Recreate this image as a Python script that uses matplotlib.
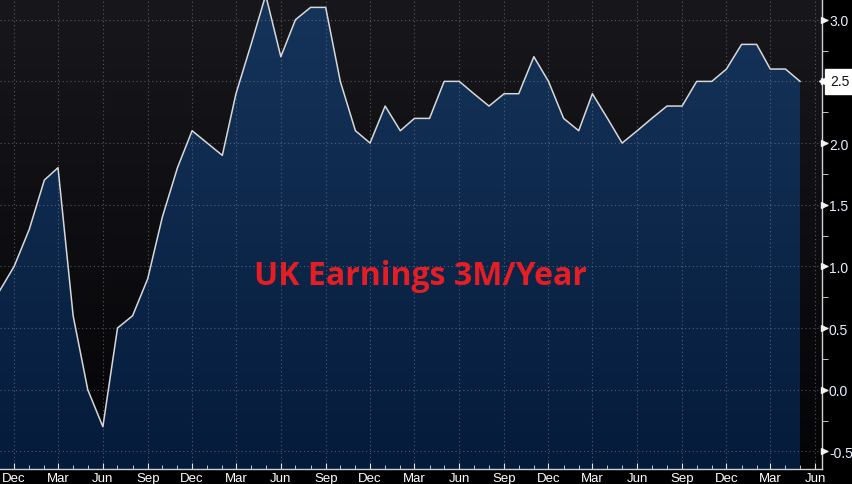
import numpy as np
import pandas as pd
import matplotlib
matplotlib.use("Agg")
import matplotlib.pyplot as plt
import matplotlib.dates as mdates
from matplotlib.transforms import blended_transform_factory

# UK average earnings, 3M/YoY (%), monthly Nov 2013 - May 2018
values = [0.8,
          1.0, 1.3, 1.7, 1.8, 0.6, 0.0, -0.3, 0.5, 0.6, 0.9, 1.4, 1.8,
          2.1, 2.0, 1.9, 2.4, 2.8, 3.2, 2.7, 3.0, 3.1, 3.1, 2.5, 2.1,
          2.0, 2.3, 2.1, 2.2, 2.2, 2.5, 2.5, 2.4, 2.3, 2.4, 2.4, 2.7,
          2.5, 2.2, 2.1, 2.4, 2.2, 2.0, 2.1, 2.2, 2.3, 2.3, 2.5, 2.5,
          2.6, 2.8, 2.8, 2.6, 2.6, 2.5]
dates = pd.date_range('2013-11-01', periods=len(values), freq='MS')
yticks = [-0.5, 0.0, 0.5, 1.0, 1.5, 2.0, 2.5, 3.0]
title = "UK Earnings 3M/Year"

fig = plt.figure(figsize=(8.52, 4.85), dpi=100, facecolor='black')
ax = fig.add_axes([0, 15 / 485, 822 / 852, 470 / 485])

x0, x1 = pd.Timestamp('2013-11-02'), pd.Timestamp('2018-06-15')
y0, y1 = -0.643, 3.168
ax.set_xlim(x0, x1)
ax.set_ylim(y0, y1)

# background gradient of the plot area
bg = np.linspace(0, 1, 256).reshape(-1, 1)
bg_cmap = matplotlib.colors.LinearSegmentedColormap.from_list('bg', ['#18181c', '#040407'])
ax.imshow(bg, cmap=bg_cmap, extent=[0, 1, 0, 1], transform=ax.transAxes,
          aspect='auto', zorder=0)

# area fill with vertical gradient, clipped to the series polygon
poly = ax.fill_between(dates, values, y0, color='none', zorder=0.4)
fill_cmap = matplotlib.colors.LinearSegmentedColormap.from_list('fill', ['#15345a', '#051b3b'])
im = ax.imshow(bg, cmap=fill_cmap, extent=[0, 1, 0, 1], transform=ax.transAxes,
               aspect='auto', zorder=0.5)
im.set_clip_path(poly.get_paths()[0], transform=ax.transData)

ax.plot(dates, values, color='#d8d8d8', lw=1.1, zorder=3)

# grid
ax.set_axisbelow('line')
ax.grid(True, color='#8a8f98', alpha=0.55, linestyle=(0, (1, 2.5)), lw=0.8)

# x axis
ax.xaxis.set_major_locator(mdates.MonthLocator(bymonth=[3, 6, 9, 12]))
ax.xaxis.set_minor_locator(mdates.MonthLocator())
ax.xaxis.set_major_formatter(mdates.DateFormatter('%b'))
ax.tick_params(axis='x', which='major', direction='in', length=4, color='#e0e0e0',
               labelcolor='white', labelsize=9.5, pad=2)
ax.tick_params(axis='x', which='minor', direction='in', length=3, color='#e0e0e0')

# y axis on the right; the last value gets its own boxed label instead
last = values[-1]
ax.yaxis.tick_right()
ax.set_yticks(yticks)
ax.set_yticks(np.arange(-0.25, 3.2, 0.5), minor=True)
ax.set_yticklabels(['' if t == last else f'{t:.1f}' for t in yticks])
ax.tick_params(axis='y', which='major', direction='out', length=4, width=1,
               color='#e0e0e0', labelcolor='#e8f0ff', labelsize=10, pad=1)
ax.tick_params(axis='y', which='minor', direction='out', length=4, color='#e0e0e0')
tr = blended_transform_factory(ax.transAxes, ax.transData)
ax.plot([1.003] * len(yticks), yticks, ls='none', marker='>', ms=4.5,
        color='#f0f0f0', transform=tr, clip_on=False, zorder=4)

for side in ['top', 'left']:
    ax.spines[side].set_visible(False)
for side in ['bottom', 'right']:
    ax.spines[side].set_color('#d0d0d0')
    ax.spines[side].set_linewidth(1)

for lab in ax.get_xticklabels() + ax.get_yticklabels():
    lab.set_family('Liberation Sans')

# last value label: white box with a notch pointing at the axis
ax.plot([1.004], [last], ls='none', marker='<', ms=8, color='white',
        transform=tr, clip_on=False, zorder=6)
ax.text(1.0105, last, f'{last:.1f}', transform=tr, ha='left', va='center',
        color='#101010', fontsize=10, family='Liberation Sans', clip_on=False, zorder=7,
        bbox=dict(boxstyle='square,pad=0.4', fc='white', ec='white'))

ax.text(0.511, 0.411, title, transform=ax.transAxes, ha='center', va='center',
        color='#e31e24', fontsize=23, fontweight='bold', family='Open Sans', zorder=5)

fig.savefig('out.png', dpi=100, facecolor='black')
